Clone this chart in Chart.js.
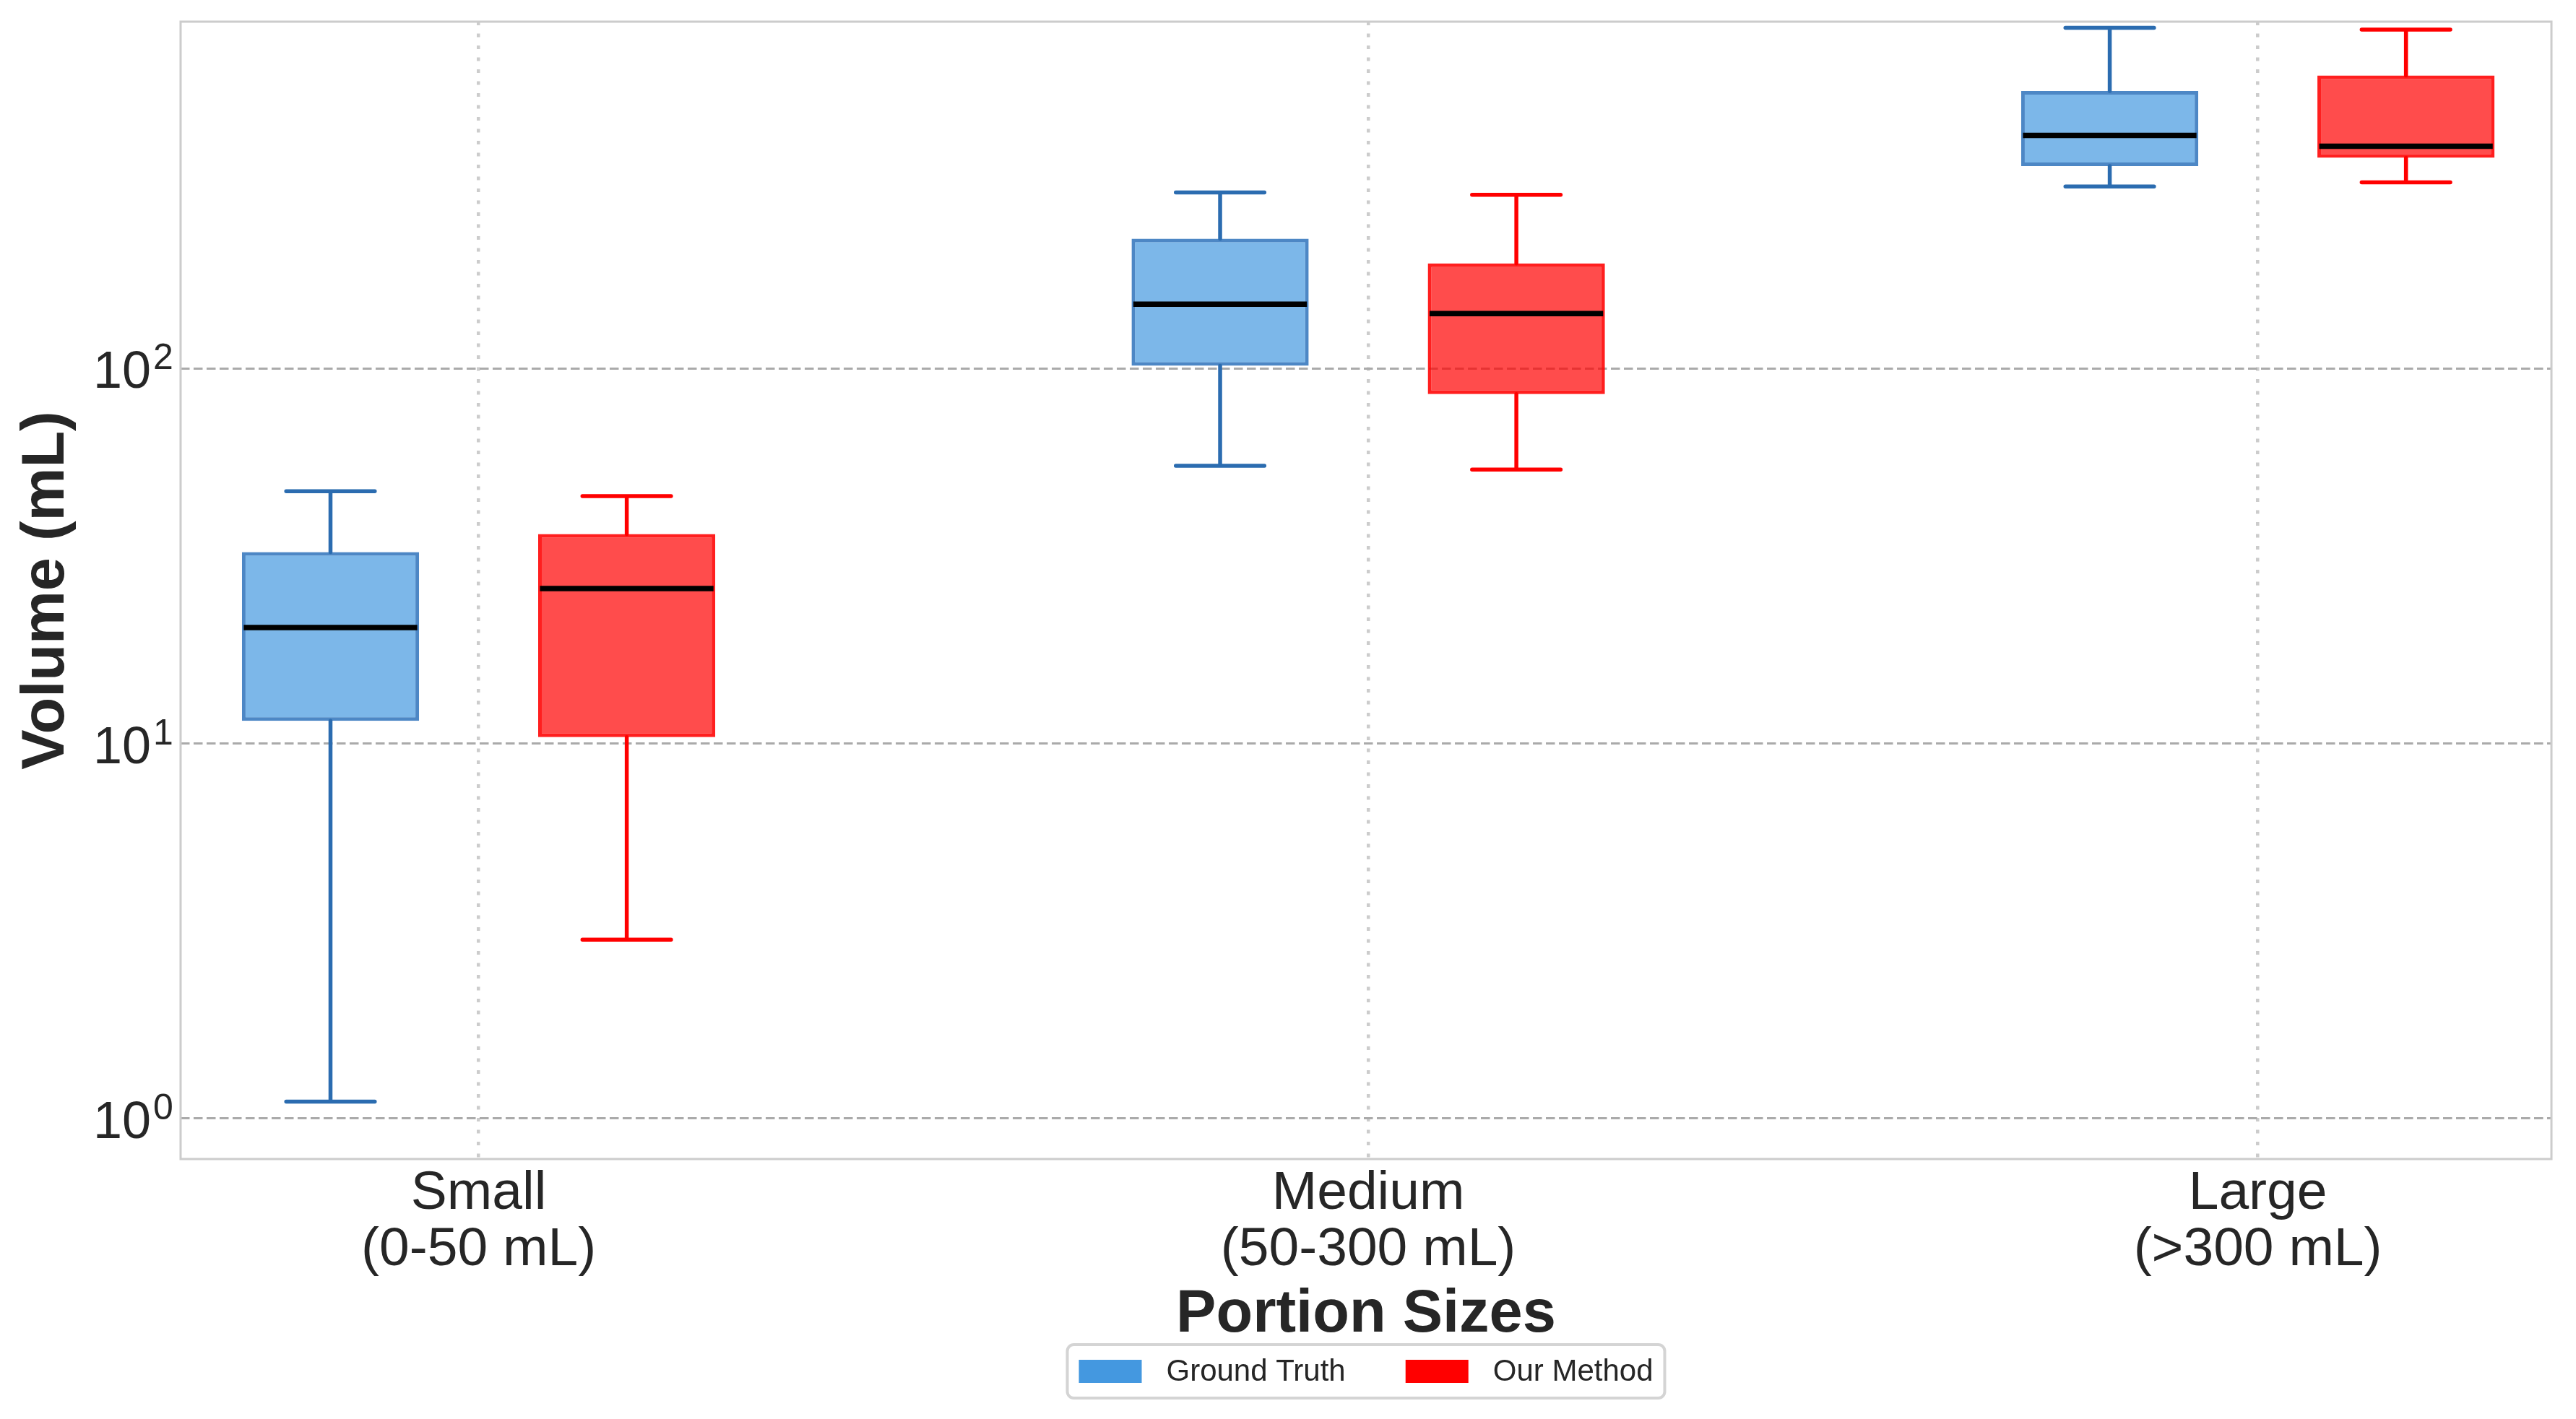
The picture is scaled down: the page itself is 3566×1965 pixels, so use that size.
<!DOCTYPE html>
<html>
<head>
<meta charset="utf-8">
<script src="https://cdn.jsdelivr.net/npm/chart.js@4.4.1/dist/chart.umd.min.js"></script>
<style>
  html, body { margin: 0; padding: 0; background: #fff; }
  canvas { display: block; }
</style>
</head>
<body>
<canvas id="boxChart" width="3566" height="1965"></canvas>
<script>
// categories and tick labels
var categories = ["Small", "Medium", "Large"];
var ranges = ["(0-50 mL)", "(50-300 mL)", "(>300 mL)"];
var xTicks = [0, 1, 2];
var yTicks = [1, 10, 100];
var yTickLabels = [["10", "0"], ["10", "1"], ["10", "2"]];
var seriesNames = ["Ground Truth", "Our Method"];

// box stats (mL)
var gtMin = [1.11, 55.1, 306];
var gtQ1 = [11.5, 101.8, 347];
var gtMedian = [20.4, 148.6, 419];
var gtQ3 = [32.4, 222, 550];
var gtMax = [47.1, 295, 811];

var ourMin = [3.0, 53.8, 314];
var ourQ1 = [10.4, 85.5, 365];
var ourMedian = [25.9, 140.2, 392];
var ourQ3 = [36.2, 190.8, 605];
var ourMax = [45.7, 290.8, 802];

var FONT = '"Liberation Sans", Arial, sans-serif';
var TEXT = "#262626";
var legendColors = ["#4498E0", "#FF0000"];
var whiskerColors = ["#2B6CB0", "#FF0000"];

var lowArr = [gtMin, ourMin];
var medArr = [gtMedian, ourMedian];
var highArr = [gtMax, ourMax];

function boxData(q1, q3) {
    return q1.map(function (v, i) {
        return { x: xTicks[i], y: [v, q3[i]] };
    });
}

// whiskers, caps and medians on top of the floating bars
var boxParts = {
    id: "boxParts",
    afterDatasetsDraw: function (chart) {
        var ctx = chart.ctx, ys = chart.scales.y;
        chart.data.datasets.forEach(function (ds, d) {
            var meta = chart.getDatasetMeta(d);
            meta.data.forEach(function (el, i) {
                var cx = el.x, w = el.width;
                var yq1 = ys.getPixelForValue(ds.data[i].y[0]);
                var yq3 = ys.getPixelForValue(ds.data[i].y[1]);
                var ylo = ys.getPixelForValue(lowArr[d][i]);
                var yhi = ys.getPixelForValue(highArr[d][i]);
                var ymed = ys.getPixelForValue(medArr[d][i]);
                ctx.save();
                ctx.strokeStyle = whiskerColors[d];
                ctx.lineWidth = 5.5;
                ctx.lineCap = "round";
                ctx.beginPath();
                ctx.moveTo(cx, yq3); ctx.lineTo(cx, yhi);
                ctx.moveTo(cx, yq1); ctx.lineTo(cx, ylo);
                ctx.moveTo(cx - w / 4, yhi); ctx.lineTo(cx + w / 4, yhi);
                ctx.moveTo(cx - w / 4, ylo); ctx.lineTo(cx + w / 4, ylo);
                ctx.stroke();
                ctx.strokeStyle = "#000";
                ctx.lineWidth = 7.5;
                ctx.lineCap = "butt";
                ctx.beginPath();
                ctx.moveTo(cx - w / 2 + 2.5, ymed);
                ctx.lineTo(cx + w / 2 - 2.5, ymed);
                ctx.stroke();
                ctx.restore();
            });
        });
    }
};

// frame, log tick labels with superscripts, framed legend
var decorations = {
    id: "decorations",
    afterDraw: function (chart) {
        var ctx = chart.ctx, a = chart.chartArea, ys = chart.scales.y;
        ctx.save();
        ctx.strokeStyle = "#cccccc";
        ctx.lineWidth = 3;
        ctx.strokeRect(a.left, a.top, a.right - a.left, a.bottom - a.top);

        ctx.fillStyle = TEXT;
        ctx.textBaseline = "alphabetic";
        yTicks.forEach(function (v, i) {
            var py = ys.getPixelForValue(v);
            ctx.font = "72px " + FONT;
            ctx.textAlign = "right";
            ctx.fillText(yTickLabels[i][0], a.left - 41, py + 27);
            ctx.font = "50px " + FONT;
            ctx.textAlign = "left";
            ctx.fillText(yTickLabels[i][1], a.left - 38, py + 1);
        });

        // legend
        ctx.font = "42px " + FONT;
        var tw = seriesNames.map(function (s) { return ctx.measureText(s).width; });
        var padX = 16, patchW = 87, patchH = 32, gapT = 34, gapItem = 83;
        var totalW = padX * 2 + patchW * 2 + gapT * 2 + tw[0] + tw[1] + gapItem;
        var lx = (a.left + a.right) / 2 - totalW / 2;
        var ly = chart.height - 103, lh = 74, r = 9;
        ctx.beginPath();
        ctx.moveTo(lx + r, ly);
        ctx.lineTo(lx + totalW - r, ly);
        ctx.arcTo(lx + totalW, ly, lx + totalW, ly + r, r);
        ctx.lineTo(lx + totalW, ly + lh - r);
        ctx.arcTo(lx + totalW, ly + lh, lx + totalW - r, ly + lh, r);
        ctx.lineTo(lx + r, ly + lh);
        ctx.arcTo(lx, ly + lh, lx, ly + lh - r, r);
        ctx.lineTo(lx, ly + r);
        ctx.arcTo(lx, ly, lx + r, ly, r);
        ctx.closePath();
        ctx.fillStyle = "#fff";
        ctx.fill();
        ctx.strokeStyle = "#d4d4d4";
        ctx.lineWidth = 4;
        ctx.stroke();
        var cx = lx + padX, cy = ly + lh / 2;
        ctx.textAlign = "left";
        ctx.textBaseline = "middle";
        seriesNames.forEach(function (s, i) {
            ctx.fillStyle = legendColors[i];
            ctx.fillRect(cx, cy - patchH / 2, patchW, patchH);
            cx += patchW + gapT;
            ctx.fillStyle = TEXT;
            ctx.fillText(s, cx, cy + 1);
            cx += tw[i] + gapItem;
        });
        ctx.restore();
    }
};

new Chart(document.getElementById("boxChart").getContext("2d"), {
    type: "bar",
    data: {
        datasets: [
            {
                label: seriesNames[0],
                data: boxData(gtQ1, gtQ3),
                backgroundColor: "rgba(68, 152, 224, 0.7)",
                borderColor: "#4D87C5",
                borderWidth: 5,
                borderSkipped: false
            },
            {
                label: seriesNames[1],
                data: boxData(ourQ1, ourQ3),
                backgroundColor: "rgba(255, 0, 0, 0.7)",
                borderColor: "rgba(255, 0, 0, 0.88)",
                borderWidth: 5,
                borderSkipped: false
            }
        ]
    },
    options: {
        responsive: false,
        devicePixelRatio: 1,
        animation: false,
        categoryPercentage: 0.666,
        barPercentage: 0.598,
        layout: { padding: { left: 0, right: 34, top: 30, bottom: 100 } },
        plugins: {
            legend: { display: false },
            tooltip: { enabled: false }
        },
        scales: {
            x: {
                type: "linear",
                offset: false,
                min: -0.335,
                max: 2.33,
                afterBuildTicks: function (scale) {
                    scale.ticks = xTicks.map(function (v) { return { value: v }; });
                },
                afterFit: function (scale) { scale.height = 260; },
                grid: { color: "#cccccc", lineWidth: 4.5, drawTicks: false, offset: false },
                border: { display: false, dash: [5, 11.5] },
                ticks: {
                    autoSkip: false,
                    maxRotation: 0,
                    padding: 9,
                    color: TEXT,
                    font: { family: FONT, size: 75, lineHeight: 1.04 },
                    callback: function (value) {
                        var i = xTicks.indexOf(value);
                        return i < 0 ? "" : [categories[i], ranges[i]];
                    }
                },
                title: {
                    display: true,
                    text: "Portion Sizes",
                    color: TEXT,
                    font: { family: FONT, size: 83, weight: "bold", lineHeight: 1.2 },
                    padding: { top: 0, bottom: -6 }
                }
            },
            y: {
                type: "logarithmic",
                min: 0.78,
                max: 842,
                afterBuildTicks: function (scale) {
                    scale.ticks = yTicks.map(function (v) { return { value: v }; });
                },
                afterFit: function (scale) { scale.width = 250; },
                grid: { color: "#aaaaaa", lineWidth: 3, drawTicks: false },
                border: { display: false, dash: [12.5, 5.5] },
                ticks: { display: false },
                title: {
                    display: true,
                    text: "Volume (mL)",
                    color: TEXT,
                    font: { family: FONT, size: 83, weight: "bold", lineHeight: 1.2 },
                    padding: { top: 15, bottom: 0 }
                }
            }
        }
    },
    plugins: [boxParts, decorations]
});
</script>
</body>
</html>
